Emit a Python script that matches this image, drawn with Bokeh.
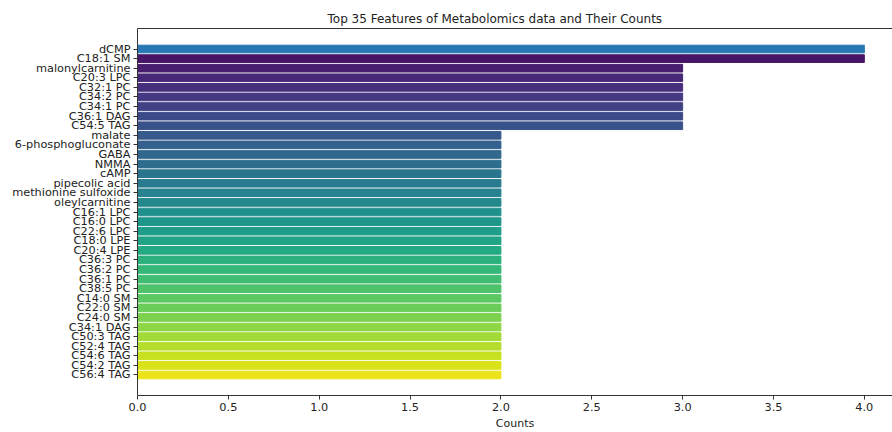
import numpy as np
from bokeh.plotting import figure
from bokeh.models import Range1d, FixedTicker, NumeralTickFormatter, LinearAxis, Title, ColumnDataSource
from bokeh.palettes import Viridis256
from bokeh.embed import file_html
from bokeh.resources import INLINE

features = ["dCMP", "C18:1 SM", "malonylcarnitine", "C20:3 LPC", "C32:1 PC", "C34:2 PC",
            "C34:1 PC", "C36:1 DAG", "C54:5 TAG", "malate", "6-phosphogluconate", "GABA",
            "NMMA", "cAMP", "pipecolic acid", "methionine sulfoxide", "oleylcarnitine",
            "C16:1 LPC", "C16:0 LPC", "C22:6 LPC", "C18:0 LPE", "C20:4 LPE", "C36:3 PC",
            "C36:2 PC", "C36:1 PC", "C38:5 PC", "C14:0 SM", "C22:0 SM", "C24:0 SM",
            "C34:1 DAG", "C50:3 TAG", "C52:4 TAG", "C54:6 TAG", "C54:2 TAG", "C56:4 TAG"]
counts = [4, 4, 3, 3, 3, 3, 3, 3, 3, 2, 2, 2, 2, 2, 2, 2, 2, 2, 2, 2, 2, 2, 2,
          2, 2, 2, 2, 2, 2, 2, 2, 2, 2, 2, 2]
x_ticks = [0.0, 0.5, 1.0, 1.5, 2.0, 2.5, 3.0, 3.5, 4.0]

n = len(features)
rank = list(range(n))
colors = [Viridis256[int(round((k + 1) / (n + 1) * 255))] for k in rank]
colors[0] = "#2677b4"

src = ColumnDataSource(dict(rank=rank, feature=features, count=counts, color=colors))

FONT = "DejaVu Sans"
TXT = "#222222"
pad = 0.05 * (n - 1 + 0.8)

p = figure(width=892, height=432, output_backend="svg", toolbar_location=None,
           y_range=Range1d(n - 1 + 0.4 + pad, -0.4 - pad),
           x_range=Range1d(0, 4.155),
           min_border_left=137, min_border_right=0, min_border_bottom=37, min_border_top=28)

p.hbar(y="rank", right="count", left=0, height=0.8, color="color", source=src)

p.xgrid.visible = False
p.ygrid.visible = False
p.outline_line_color = None
p.background_fill_color = "white"
p.border_fill_color = "white"

xa = p.xaxis[0]
xa.ticker = FixedTicker(ticks=x_ticks)
xa.formatter = NumeralTickFormatter(format="0.0")
xa.axis_label = "Counts"
xa.minor_tick_line_color = None
xa.major_tick_out = 4
xa.major_tick_in = 0
xa.major_label_standoff = 3
xa.axis_label_standoff = 3

ya = p.yaxis[0]
ya.ticker = FixedTicker(ticks=rank)
ya.major_label_overrides = {i: f for i, f in zip(rank, features)}
ya.minor_tick_line_color = None
ya.major_tick_out = 4
ya.major_tick_in = 0
ya.major_label_standoff = 3

for ax in (xa, ya):
    ax.axis_line_color = "#333333"
    ax.major_tick_line_color = "#333333"
    ax.major_label_text_font = FONT
    ax.major_label_text_font_size = "11.3px"
    ax.major_label_text_color = TXT
    ax.axis_label_text_font = FONT
    ax.axis_label_text_font_size = "11px"
    ax.axis_label_text_font_style = "normal"
    ax.axis_label_text_color = TXT

top = LinearAxis(ticker=FixedTicker(ticks=[]), major_tick_out=0, major_tick_in=0,
                 minor_tick_out=0, minor_tick_in=0, major_label_text_font_size="0px",
                 major_label_standoff=0, axis_label_standoff=0, axis_line_color="#333333")
p.add_layout(top, "above")

p.add_layout(Title(text="Top 35 Features of Metabolomics data and Their Counts",
                   text_font=FONT, text_font_size="12px", text_font_style="normal",
                   text_color=TXT, align="left", offset=190, standoff=5), "above")

open("out.html", "w").write(file_html(p, INLINE))
